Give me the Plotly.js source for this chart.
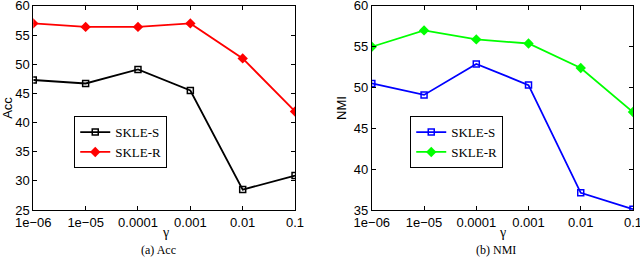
<!DOCTYPE html>
<html><head><meta charset="utf-8">
<script src="https://cdn.plot.ly/plotly-3.0.1.min.js"></script>
<style>html,body{margin:0;padding:0;background:#fff}#c{width:640px;height:258px}</style>
</head><body><div id="c"></div>
<script>
const gammaVals = [1e-6, 1e-5, 1e-4, 1e-3, 1e-2, 1e-1];
const gammaLabels = ["1e\u221206", "1e\u221205", "0.0001", "0.001", "0.01", "0.1"];
const accS = [47.3, 46.7, 49.1, 45.5, 28.5, 30.9];
const accR = [57.0, 56.4, 56.4, 57.0, 51.0, 41.9];
const nmiS = [50.5, 49.1, 52.9, 50.3, 37.1, 35.1];
const nmiR = [55.0, 57.0, 55.9, 55.4, 52.4, 47.0];
const accTicks = [25, 30, 35, 40, 45, 50, 55, 60];
const nmiTicks = [35, 40, 45, 50, 55, 60];

const sq = {symbol: 'square-open', size: 6, line: {width: 1.5}};
const dm = {symbol: 'diamond', size: 8};
const traces = [
  {x: gammaVals, y: accS, name: 'SKLE-S', mode: 'lines+markers', xaxis: 'x', yaxis: 'y', legend: 'legend',
   line: {color: '#000000', width: 1.8}, marker: Object.assign({color: '#000000'}, sq)},
  {x: gammaVals, y: accR, name: 'SKLE-R', mode: 'lines+markers', xaxis: 'x', yaxis: 'y', legend: 'legend',
   line: {color: '#ff0000', width: 1.8}, marker: Object.assign({color: '#ff0000'}, dm)},
  {x: gammaVals, y: nmiS, name: 'SKLE-S', mode: 'lines+markers', xaxis: 'x2', yaxis: 'y2', legend: 'legend2',
   line: {color: '#0000ff', width: 1.8}, marker: Object.assign({color: '#0000ff'}, sq)},
  {x: gammaVals, y: nmiR, name: 'SKLE-R', mode: 'lines+markers', xaxis: 'x2', yaxis: 'y2', legend: 'legend2',
   line: {color: '#00ff00', width: 1.8}, marker: Object.assign({color: '#00ff00'}, dm)}
];
const tickFont = {family: 'Liberation Sans, Arial, sans-serif', size: 13, color: '#000'};
function xax(domain, anchor) {
  return {domain: domain, anchor: anchor, type: 'log', range: [-6, -1], tickvals: gammaVals, ticktext: gammaLabels,
    showline: true, mirror: 'ticks', linecolor: '#000', linewidth: 1, ticks: 'inside', ticklen: 4, tickcolor: '#000',
    showgrid: false, zeroline: false, tickfont: tickFont, ticklabeloverflow: 'allow'};
}
function yax(domain, anchor, range, ticks, title) {
  return {domain: domain, anchor: anchor, range: range, tickvals: ticks,
    showline: true, mirror: 'ticks', linecolor: '#000', linewidth: 1, ticks: 'inside', ticklen: 4, tickcolor: '#000',
    showgrid: false, zeroline: false, tickfont: tickFont, ticklabeloverflow: 'allow',
    title: {text: title, font: {family: 'Liberation Sans, Arial, sans-serif', size: 13, color: '#000'}, standoff: 4}};
}
const serif = 'Liberation Serif, Times New Roman, serif';
const legFont = {family: serif, size: 13, color: '#000'};
const layout = {
  width: 640, height: 258, margin: {l: 0, r: 0, t: 0, b: 0},
  paper_bgcolor: '#fff', plot_bgcolor: '#fff',
  xaxis: xax([0.052, 0.461], 'y'),
  yaxis: yax([0.186, 0.977], 'x', [25, 60], accTicks, 'Acc'),
  xaxis2: xax([0.581, 0.989], 'y2'),
  yaxis2: yax([0.186, 0.977], 'x2', [35, 60], nmiTicks, 'NMI'),
  legend: {x: 0.116, y: 0.55, xanchor: 'left', yanchor: 'top', bgcolor: '#fff', bordercolor: '#000', borderwidth: 1,
    font: legFont, tracegroupgap: 0, itemwidth: 30},
  legend2: {x: 0.641, y: 0.55, xanchor: 'left', yanchor: 'top', bgcolor: '#fff', bordercolor: '#000', borderwidth: 1,
    font: legFont, tracegroupgap: 0, itemwidth: 30},
  showlegend: true,
  annotations: [
    {text: '\u03b3', xref: 'paper', yref: 'paper', x: 0.258, y: 0.097, showarrow: false, xanchor: 'center', yanchor: 'middle',
     font: {family: serif, size: 14, color: '#000'}},
    {text: '\u03b3', xref: 'paper', yref: 'paper', x: 0.785, y: 0.097, showarrow: false, xanchor: 'center', yanchor: 'middle',
     font: {family: serif, size: 14, color: '#000'}},
    {text: '(a) Acc', xref: 'paper', yref: 'paper', x: 0.248, y: 0.031, showarrow: false, xanchor: 'center', yanchor: 'middle',
     font: {family: serif, size: 12, color: '#000'}},
    {text: '(b) NMI', xref: 'paper', yref: 'paper', x: 0.775, y: 0.031, showarrow: false, xanchor: 'center', yanchor: 'middle',
     font: {family: serif, size: 12, color: '#000'}}
  ]
};
Plotly.newPlot('c', traces, layout, {staticPlot: true, displayModeBar: false});
</script></body></html>
